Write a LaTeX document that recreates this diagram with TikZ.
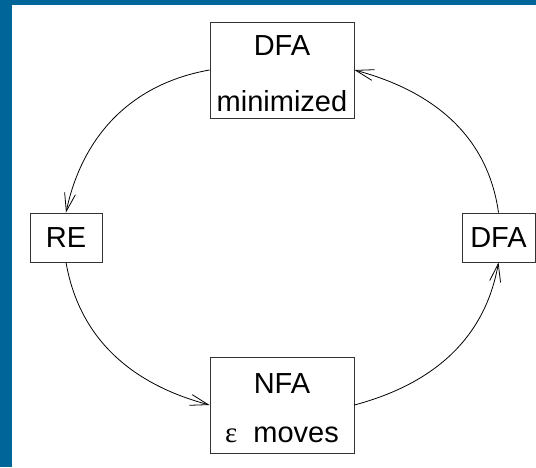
\documentclass[tikz,border=0pt]{standalone}
\usepackage{fontspec}
\setmainfont{Liberation Sans}
\newfontfamily\symfont{Liberation Serif}
\usetikzlibrary{arrows.meta}
\definecolor{frameblue}{RGB}{0,102,153}
\newcommand{\toplift}{\rule{0pt}{27pt}}
\tikzset{
  statebox/.style={draw=black!80, line width=0.9pt, fill=white, align=center,
    inner sep=0pt, font=\fontsize{29}{49}\selectfont},
  trans/.style={line width=0.8pt, -{Straight Barb[length=18pt,width=11pt]}},
}
\begin{document}
\begin{tikzpicture}[x=1pt,y=1pt]
% \clip (0,0) rectangle (536,467);
\useasboundingbox (0,0) rectangle (536,467);

% Drawing background and frame
\fill[white] (0,0) rectangle (536,467);
\fill[frameblue] (0,462) rectangle (536,467);
\fill[frameblue] (0,0) rectangle (11.7,467);

% Drawing node DFA minimized
\node[statebox, minimum width=144, minimum height=96] (dfamin) at (282,397) {\toplift DFA\\[7pt]minimized};

% Drawing node RE
\node[statebox, minimum width=72, minimum height=49] (re) at (66,229.5) {RE};

% Drawing node DFA
\node[statebox, minimum width=73, minimum height=49] (dfa) at (498.5,229.5) {DFA};

% Drawing node NFA
\node[statebox, minimum width=144, minimum height=96] (nfa) at (282,62) {\toplift NFA\\{\symfont ε}\ \ moves};

% Drawing transitions
\draw[trans] (dfamin.west) to[out=190,in=78] (re.north);
\draw[trans] (re.south) to[out=-80,in=165] (nfa.west);
\draw[trans] (nfa.east) to[out=15,in=-100] (dfa.south);
\draw[trans] (dfa.north) to[out=98,in=-15] (dfamin.east);
\end{tikzpicture}
\end{document}
